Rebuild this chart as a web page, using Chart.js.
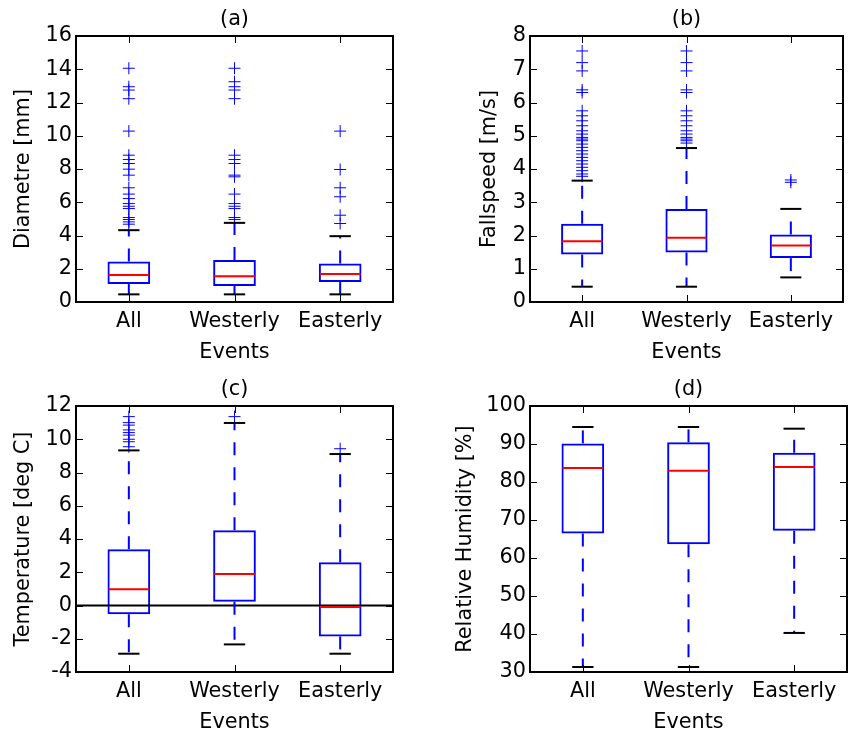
<!DOCTYPE html>
<html>
<head>
<meta charset="utf-8">
<script src="https://cdn.jsdelivr.net/npm/chart.js@4"></script>
<style>
  html, body { margin: 0; padding: 0; background: #ffffff; }
  body { width: 850px; height: 735px; position: relative; overflow: hidden; }
  canvas { position: absolute; }
</style>
</head>
<body>
<canvas id="ca" width="425" height="370" style="left:0;top:0"></canvas>
<canvas id="cb" width="425" height="370" style="left:425px;top:0"></canvas>
<canvas id="cc" width="425" height="365" style="left:0;top:370px"></canvas>
<canvas id="cd" width="425" height="365" style="left:425px;top:370px"></canvas>
<script>
// ---------------- data ----------------
const categories = ['All', 'Westerly', 'Easterly'];
const xAxisTitle = 'Events';

// (a) Diameter [mm]
const diamTicks = [0, 2, 4, 6, 8, 10, 12, 14, 16];
const diamLow = [0.46, 0.46, 0.46];
const diamQ1 = [1.08, 0.96, 1.20];
const diamMedian = [1.63, 1.55, 1.69];
const diamQ3 = [2.43, 2.53, 2.31];
const diamHigh = [4.32, 4.76, 3.96];
const diamOutAll = [14.06, 12.95, 12.75, 12.23, 10.28, 8.83, 8.57, 8.33, 7.99, 7.63, 6.87, 6.49, 6.22, 5.92, 5.76, 5.62, 5.08, 4.96, 4.82, 4.68];
const diamOutWest = [14.06, 13.25, 12.95, 12.75, 12.23, 8.83, 8.57, 8.33, 7.63, 7.53, 6.49, 5.92, 5.76, 5.62, 5.08, 4.96];
const diamOutEast = [10.28, 7.97, 6.87, 6.33, 5.22, 4.72];

// (b) Fallspeed [m/s]
const fallTicks = [0, 1, 2, 3, 4, 5, 6, 7, 8];
const fallLow = [0.46, 0.46, 0.74];
const fallQ1 = [1.43, 1.49, 1.32];
const fallMedian = [1.83, 1.93, 1.70];
const fallQ3 = [2.35, 2.80, 2.03];
const fallHigh = [3.65, 4.63, 2.80];
const fallOutAll = [7.55, 7.2, 6.95, 6.38, 6.3, 5.75, 5.6, 5.45, 5.3, 5.15, 5.05, 4.95, 4.9, 4.85, 4.75, 4.65, 4.55, 4.45, 4.35, 4.25, 4.15, 4.05, 3.95, 3.85, 3.78];
const fallOutWest = [7.55, 7.2, 6.95, 6.38, 6.3, 5.75, 5.6, 5.45, 5.3, 5.15, 5.05, 4.95, 4.9, 4.85, 4.78];
const fallOutEast = [3.67, 3.6];

// (c) Temperature [deg C]
const tempTicks = [-4, -2, 0, 2, 4, 6, 8, 10, 12];
const tempLow = [-2.9, -2.34, -2.9];
const tempQ1 = [-0.53, 0.23, -1.86];
const tempMedian = [0.98, 1.9, -0.09];
const tempQ3 = [3.39, 4.53, 2.6];
const tempHigh = [9.33, 10.98, 9.11];
const tempOutAll = [11.36, 11.0, 10.85, 10.56, 10.4, 10.25, 10.0, 9.85, 9.55];
const tempOutWest = [11.36];
const tempOutEast = [9.43];

// (d) Relative Humidity [%]
const rhTicks = [30, 40, 50, 60, 70, 80, 90, 100];
const rhLow = [31.32, 31.32, 40.28];
const rhQ1 = [66.45, 63.64, 67.15];
const rhMedian = [83.66, 82.96, 83.93];
const rhQ3 = [90.16, 90.43, 87.7];
const rhHigh = [94.47, 94.47, 94.03];
const rhOutAll = [];
const rhOutWest = [];
const rhOutEast = [];

// ---------------- drawing ----------------
const FONT = 'DejaVu Sans';
const FS = 20.8;
const BLUE = '#0000ff';

function boxPlugin(p) {
  return {
    id: 'boxdraw_' + p.id,
    afterDatasetsDraw(chart) {
      const {ctx, chartArea: a, scales: {x, y}} = chart;
      const meta = chart.getDatasetMeta(0);
      const line = (x1, y1, x2, y2) => { ctx.beginPath(); ctx.moveTo(x1, y1); ctx.lineTo(x2, y2); ctx.stroke(); };
      ctx.save();
      if (p.zeroLine) {
        ctx.strokeStyle = '#000'; ctx.lineWidth = 2;
        const yz = y.getPixelForValue(0);
        line(a.left, yz, a.right, yz);
      }
      categories.forEach((c, i) => {
        const bar = meta.data[i];
        const cx = bar.x, hw = bar.width / 2;
        const yL = y.getPixelForValue(p.low[i]);
        const y1 = y.getPixelForValue(p.q1[i]);
        const yM = y.getPixelForValue(p.med[i]);
        const y3 = y.getPixelForValue(p.q3[i]);
        const yH = y.getPixelForValue(p.high[i]);
        ctx.strokeStyle = BLUE; ctx.lineWidth = 2; ctx.setLineDash([13, 12]);
        line(cx, y3, cx, yH);
        line(cx, y1, cx, yL);
        ctx.setLineDash([]);
        ctx.strokeStyle = '#000'; ctx.lineWidth = 2;
        line(cx - hw / 2, yH, cx + hw / 2, yH);
        line(cx - hw / 2, yL, cx + hw / 2, yL);
        ctx.strokeStyle = '#ff0000'; ctx.lineWidth = 2;
        line(cx - hw + 1, yM, cx + hw - 1, yM);
      });
      // tick marks (inward, all sides)
      ctx.strokeStyle = '#000'; ctx.lineWidth = 1;
      p.ticks.forEach(v => {
        const yy = Math.round(y.getPixelForValue(v)) + 0.5;
        line(a.left, yy, a.left + 7, yy);
        line(a.right - 7, yy, a.right, yy);
      });
      categories.forEach((c, i) => {
        const xx = Math.round(x.getPixelForValue(i)) + 0.5;
        line(xx, a.bottom, xx, a.bottom - 7);
        line(xx, a.top, xx, a.top + 7);
      });
      // frame
      ctx.strokeStyle = '#000'; ctx.lineWidth = 2;
      ctx.strokeRect(a.left, a.top, a.right - a.left, a.bottom - a.top);
      // panel title
      ctx.fillStyle = '#000';
      ctx.font = FS + 'px "' + FONT + '"';
      ctx.textAlign = 'center'; ctx.textBaseline = 'middle';
      ctx.fillText(p.title, (a.left + a.right) / 2, a.top - 16);
      ctx.restore();
    }
  };
}

function outlierData(cat, vals) { return vals.map(v => ({x: cat, y: v})); }

function makeChart(p) {
  const datasets = [{
    type: 'bar',
    data: categories.map((c, i) => [p.q1[i], p.q3[i]]),
    backgroundColor: 'rgba(0,0,0,0)',
    borderColor: BLUE,
    borderWidth: 2,
    borderSkipped: false,
    categoryPercentage: 0.404,
    barPercentage: 1.0
  }];
  p.out.forEach((vals, i) => {
    datasets.push({
      type: 'scatter',
      data: outlierData(categories[i], vals),
      pointStyle: 'cross',
      pointRadius: 6,
      borderColor: BLUE,
      backgroundColor: BLUE,
      borderWidth: 1,
      showLine: false
    });
  });
  new Chart(document.getElementById(p.id), {
    type: 'bar',
    data: {labels: categories, datasets},
    options: {
      responsive: false,
      animation: false,
      events: [],
      layout: {padding: {left: 0, top: 36, right: p.right, bottom: p.bottom}},
      plugins: {legend: {display: false}, tooltip: {enabled: false}},
      scales: {
        x: {
          type: 'category',
          offset: true,
          grid: {display: false, drawTicks: false},
          border: {display: false},
          ticks: {color: '#000', font: {family: FONT, size: FS}, padding: 7, maxRotation: 0, autoSkip: false},
          title: {display: true, text: xAxisTitle, color: '#000', font: {family: FONT, size: FS}, padding: {top: 0, bottom: 0}},
          afterFit: s => { s.height = 63; }
        },
        y: {
          type: 'linear',
          min: p.ticks[0],
          max: p.ticks[p.ticks.length - 1],
          grid: {display: false, drawTicks: false},
          border: {display: false},
          afterBuildTicks: s => { s.ticks = p.ticks.map(v => ({value: v})); },
          ticks: {color: '#000', font: {family: FONT, size: FS}, padding: 4, autoSkip: false},
          title: {display: true, text: p.ylabel, color: '#000', font: {family: FONT, size: FS}, padding: {top: p.ytp, bottom: 0}},
          afterFit: s => { s.width = p.yw; }
        }
      }
    },
    plugins: [boxPlugin(p)]
  });
}

makeChart({id: 'ca', title: '(a)', ylabel: 'Diametre [mm]', ticks: diamTicks,
  low: diamLow, q1: diamQ1, med: diamMedian, q3: diamQ3, high: diamHigh,
  out: [diamOutAll, diamOutWest, diamOutEast], yw: 76, right: 32, bottom: 5, ytp: 11});
makeChart({id: 'cb', title: '(b)', ylabel: 'Fallspeed [m/s]', ticks: fallTicks,
  low: fallLow, q1: fallQ1, med: fallMedian, q3: fallQ3, high: fallHigh,
  out: [fallOutAll, fallOutWest, fallOutEast], yw: 105, right: 3, bottom: 5, ytp: 52});
makeChart({id: 'cc', title: '(c)', ylabel: 'Temperature [deg C]', ticks: tempTicks,
  low: tempLow, q1: tempQ1, med: tempMedian, q3: tempQ3, high: tempHigh,
  out: [tempOutAll, tempOutWest, tempOutEast], yw: 76, right: 32, bottom: 0, ytp: 11, zeroLine: true});
makeChart({id: 'cd', title: '(d)', ylabel: 'Relative Humidity [%]', ticks: rhTicks,
  low: rhLow, q1: rhQ1, med: rhMedian, q3: rhQ3, high: rhHigh,
  out: [rhOutAll, rhOutWest, rhOutEast], yw: 105, right: 3, bottom: 0, ytp: 28});
</script>
</body>
</html>
